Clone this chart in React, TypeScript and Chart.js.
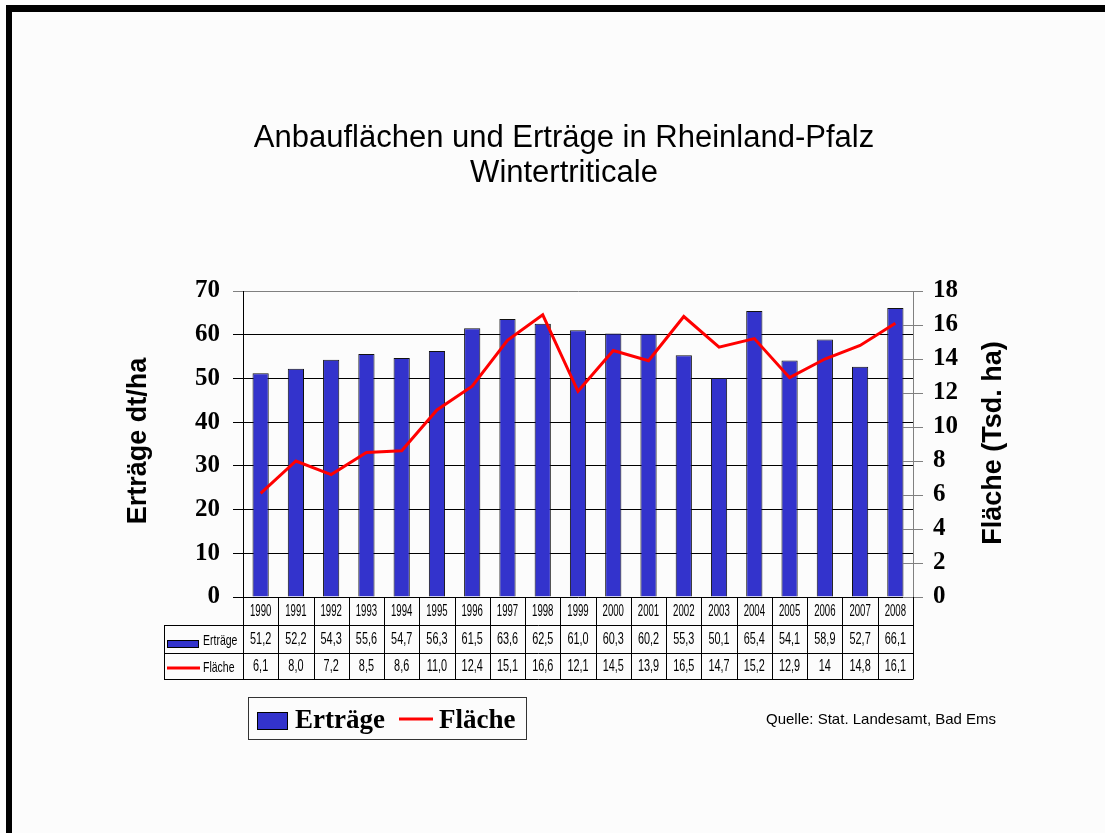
import { useEffect, useRef } from 'react';
import { Chart, registerables } from 'chart.js';

Chart.register(...registerables);

const years = ['1990', '1991', '1992', '1993', '1994', '1995', '1996', '1997', '1998', '1999', '2000', '2001', '2002', '2003', '2004', '2005', '2006', '2007', '2008'];
const ertraegeText = ['51,2', '52,2', '54,3', '55,6', '54,7', '56,3', '61,5', '63,6', '62,5', '61,0', '60,3', '60,2', '55,3', '50,1', '65,4', '54,1', '58,9', '52,7', '66,1'];
const flaecheText = ['6,1', '8,0', '7,2', '8,5', '8,6', '11,0', '12,4', '15,1', '16,6', '12,1', '14,5', '13,9', '16,5', '14,7', '15,2', '12,9', '14', '14,8', '16,1'];
const toNum = (s: string) => parseFloat(s.replace(',', '.'));
const ertraege = ertraegeText.map(toNum);
const flaeche = flaecheText.map(toNum);

const titleLines = ['Anbauflächen und Erträge in Rheinland-Pfalz', 'Wintertriticale'];
const leftAxisTitle = 'Erträge dt/ha';
const rightAxisTitle = 'Fläche (Tsd. ha)';
const sourceText = 'Quelle: Stat. Landesamt, Bad Ems';
const seriesNames = ['Erträge', 'Fläche'];

const BAR_COLOR = '#3333cc';
const LINE_COLOR = '#ff0000';
const SANS = "'Liberation Sans', Arial, sans-serif";
const SERIF = "'Liberation Serif', 'Times New Roman', serif";

function txt(ctx: CanvasRenderingContext2D, text: string, x: number, y: number, font: string, align: CanvasTextAlign, sx = 1, baseline: CanvasTextBaseline = 'middle') {
  ctx.save();
  ctx.translate(x, y);
  ctx.scale(sx, 1);
  ctx.font = font;
  ctx.textAlign = align;
  ctx.textBaseline = baseline;
  ctx.fillStyle = '#000';
  ctx.fillText(text, 0, 0);
  ctx.restore();
}

const decorPlugin = {
  id: 'decor',
  beforeDraw(chart: any) {
    const ctx: CanvasRenderingContext2D = chart.ctx;
    ctx.save();
    ctx.fillStyle = '#fcfcfc';
    ctx.fillRect(0, 0, chart.width, chart.height);
    ctx.fillStyle = '#000';
    ctx.fillRect(6, 5, chart.width - 6, 7);
    ctx.fillRect(6, 5, 6, chart.height - 5);
    ctx.restore();
  },
  afterDraw(chart: any) {
    const ctx: CanvasRenderingContext2D = chart.ctx;
    const area = chart.chartArea;
    const xs = chart.scales.x;
    const y1 = chart.scales.y1;

    // Title
    txt(ctx, titleLines[0], 564, 138, `31px ${SANS}`, 'center');
    txt(ctx, titleLines[1], 564, 173, `31px ${SANS}`, 'center');

    // Axis titles
    ctx.save();
    ctx.translate(146, 441);
    ctx.rotate(-Math.PI / 2);
    ctx.font = `bold 27px ${SANS}`;
    ctx.textAlign = 'center';
    ctx.textBaseline = 'alphabetic';
    ctx.fillStyle = '#000';
    ctx.fillText(leftAxisTitle, 0, 0);
    ctx.restore();

    ctx.save();
    ctx.translate(1001, 443);
    ctx.rotate(-Math.PI / 2);
    ctx.font = `bold 27px ${SANS}`;
    ctx.textAlign = 'center';
    ctx.textBaseline = 'alphabetic';
    ctx.fillStyle = '#000';
    ctx.fillText(rightAxisTitle, 0, 0);
    ctx.restore();

    // Inner part of right axis ticks
    ctx.save();
    ctx.strokeStyle = '#808080';
    ctx.lineWidth = 1;
    y1.ticks.forEach((t: any) => {
      const py = Math.round(y1.getPixelForValue(t.value)) + 0.5;
      ctx.beginPath();
      ctx.moveTo(area.right - 10, py);
      ctx.lineTo(area.right, py);
      ctx.stroke();
    });
    ctx.restore();

    // Data table
    const n = years.length;
    const colW = (area.right - area.left) / n;
    const r0 = area.bottom;
    const r1 = r0 + 28;
    const r2 = r0 + 56;
    const r3 = r0 + 82;
    const headLeft = 164;
    ctx.save();
    ctx.strokeStyle = '#000';
    ctx.lineWidth = 1;
    ctx.beginPath();
    [r1, r2, r3].forEach((ry) => {
      ctx.moveTo(headLeft, Math.round(ry) + 0.5);
      ctx.lineTo(area.right, Math.round(ry) + 0.5);
    });
    for (let i = 0; i <= n; i++) {
      const px = Math.round(area.left + i * colW) + 0.5;
      ctx.moveTo(px, r0);
      ctx.lineTo(px, r3 + 0.5);
    }
    ctx.moveTo(headLeft + 0.5, r1 + 0.5);
    ctx.lineTo(headLeft + 0.5, r3 + 0.5);
    ctx.stroke();
    ctx.restore();

    for (let i = 0; i < n; i++) {
      const cx = xs.getPixelForValue(i);
      txt(ctx, years[i], cx, (r0 + r1) / 2 + 1, `16px ${SANS}`, 'center', 0.6);
      txt(ctx, ertraegeText[i], cx, (r1 + r2) / 2 + 1, `16px ${SANS}`, 'center', 0.68);
      txt(ctx, flaecheText[i], cx, (r2 + r3) / 2 + 1, `16px ${SANS}`, 'center', 0.68);
    }
    // row headers
    ctx.save();
    ctx.fillStyle = BAR_COLOR;
    ctx.fillRect(167, 640, 31, 7);
    ctx.strokeStyle = '#000';
    ctx.lineWidth = 1;
    ctx.strokeRect(167.5, 640.5, 31, 7);
    ctx.strokeStyle = LINE_COLOR;
    ctx.lineWidth = 3;
    ctx.beginPath();
    ctx.moveTo(167, 668);
    ctx.lineTo(200, 668);
    ctx.stroke();
    ctx.restore();
    txt(ctx, seriesNames[0], 203, (r1 + r2) / 2 + 2, `15px ${SANS}`, 'left', 0.7);
    txt(ctx, seriesNames[1], 203, (r2 + r3) / 2 + 2, `15px ${SANS}`, 'left', 0.7);

    // Legend box
    ctx.save();
    ctx.strokeStyle = '#333';
    ctx.lineWidth = 1;
    ctx.strokeRect(248.5, 697.5, 278, 42);
    ctx.fillStyle = BAR_COLOR;
    ctx.fillRect(257, 712, 30, 17);
    ctx.strokeStyle = '#000';
    ctx.strokeRect(257.5, 712.5, 30, 17);
    ctx.strokeStyle = LINE_COLOR;
    ctx.lineWidth = 3;
    ctx.beginPath();
    ctx.moveTo(399, 719);
    ctx.lineTo(433, 719);
    ctx.stroke();
    ctx.restore();
    txt(ctx, seriesNames[0], 295, 728, `bold 27px ${SERIF}`, 'left', 1, 'alphabetic');
    txt(ctx, seriesNames[1], 439, 728, `bold 27px ${SERIF}`, 'left', 1, 'alphabetic');

    // Source
    txt(ctx, sourceText, 766, 720, `15px ${SANS}`, 'left');
  },
};

export default function App() {
  const ref = useRef<HTMLCanvasElement>(null);
  useEffect(() => {
    const canvas = ref.current;
    if (!canvas) return;
    const tickFont = { family: SERIF, size: 25, weight: 'bold' as const };
    const chart = new Chart(canvas, {
      type: 'bar',
      data: {
        labels: years,
        datasets: [
          {
            type: 'line' as const,
            label: seriesNames[1],
            data: flaeche,
            yAxisID: 'y1',
            borderColor: LINE_COLOR,
            backgroundColor: LINE_COLOR,
            borderWidth: 3,
            pointRadius: 0,
            tension: 0,
            order: 0,
          },
          {
            type: 'bar' as const,
            label: seriesNames[0],
            data: ertraege,
            yAxisID: 'y',
            backgroundColor: BAR_COLOR,
            borderColor: '#111',
            borderWidth: 1,
            barPercentage: 0.46,
            categoryPercentage: 1,
            order: 1,
          },
        ],
      } as any,
      options: {
        responsive: false,
        animation: false,
        layout: { padding: { top: 291, bottom: 236, left: 0, right: 0 } },
        plugins: {
          legend: { display: false },
          tooltip: { enabled: false },
          title: { display: false },
        },
        scales: {
          x: { display: false, offset: true },
          y: {
            position: 'left',
            min: 0,
            max: 70,
            ticks: { stepSize: 10, padding: 13, color: '#000', font: tickFont, autoSkip: false },
            grid: {
              color: (c: any) => (c.tick && c.tick.value === 70 ? '#808080' : '#000'),
              tickLength: 10,
              lineWidth: 1,
            },
            border: { color: '#000', width: 1 },
            afterFit: (s: any) => {
              s.width = 243;
            },
          },
          y1: {
            position: 'right',
            min: 0,
            max: 18,
            ticks: { stepSize: 2, padding: 10, color: '#000', font: tickFont, autoSkip: false },
            grid: { drawOnChartArea: false, color: '#808080', tickLength: 10 },
            border: { color: '#808080', width: 1 },
            afterFit: (s: any) => {
              s.width = 192;
            },
          },
        },
      } as any,
      plugins: [decorPlugin],
    });
    return () => chart.destroy();
  }, []);
  return (
    <div style={{ position: 'absolute', left: 0, top: 0, width: 1105, height: 833 }}>
      <canvas ref={ref} width={1105} height={833} style={{ display: 'block' }} />
    </div>
  );
}
